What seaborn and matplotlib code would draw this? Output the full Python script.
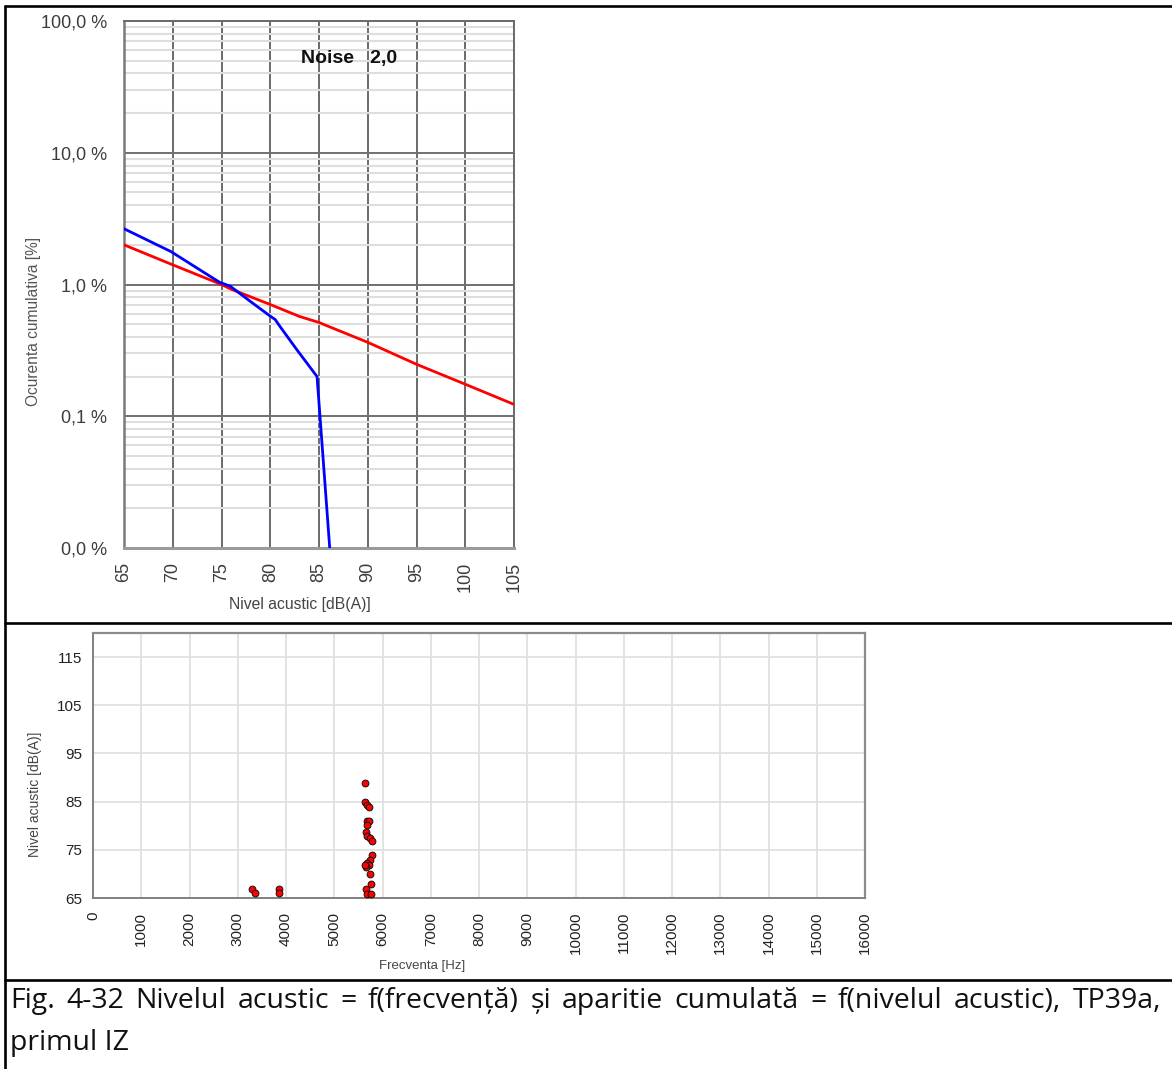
import numpy as np
import pandas as pd
import matplotlib
matplotlib.use("Agg")
import matplotlib.pyplot as plt
import seaborn as sns
from matplotlib.lines import Line2D
from matplotlib.ticker import FixedLocator, FixedFormatter, NullFormatter

# ---- cumulative occurrence vs. sound level ----
level_measured = [65.0, 69.8, 74.8, 75.9, 77.9, 80.0, 80.5, 81.0, 82.7, 84.8, 86.1]
occ_measured = [2.65, 1.78, 1.04, 0.97, 0.75, 0.575, 0.543, 0.48, 0.322, 0.20, 0.01]
level_ref = [65, 70, 75, 76, 80, 83, 85, 86, 90, 95, 100, 105]
occ_ref = [2.0, 1.41, 1.0, 0.92, 0.705, 0.572, 0.515, 0.48, 0.364, 0.248, 0.175, 0.123]
occ_ticks = [0.01, 0.1, 1, 10, 100]
occ_tick_labels = ["0,0 %", "0,1 %", "1,0 %", "10,0 %", "100,0 %"]
level_ticks = [65, 70, 75, 80, 85, 90, 95, 100, 105]
noise_label = "Noise   2,0"

# ---- sound level vs. frequency ----
freq_hz = [3289, 3358, 3862, 3862,
           5637, 5637, 5685, 5727, 5685, 5720, 5672, 5658, 5672, 5741, 5788,
           5788, 5741, 5672, 5727, 5658, 5637, 5741, 5755, 5658, 5672, 5755]
level_db = [66.8, 66.0, 66.8, 66.0,
            88.9, 84.9, 84.4, 83.8, 81.0, 80.9, 80.2, 78.7, 77.8, 77.4, 76.8,
            73.9, 72.9, 72.2, 71.8, 71.5, 71.8, 70.0, 67.9, 66.8, 65.8, 65.8]
freq_ticks = list(range(0, 16001, 1000))
db_ticks = [65, 75, 85, 95, 105, 115]

caption_line1 = ("Fig. 4-32 Nivelul acustic = f(frecvență) și aparitie cumulată = "
                 "f(nivelul acustic), TP39a,")
caption_line2 = "primul IZ"

sns.set_style("white")
plt.rcParams["font.family"] = ["Liberation Sans", "DejaVu Sans"]

W, H = 1172, 1069
fig = plt.figure(figsize=(W / 100, H / 100), dpi=100)


def px_rect(x0, y0, x1, y1):
    return [x0 / W, 1 - y1 / H, (x1 - x0) / W, (y1 - y0) / H]


# ================= top chart =================
ax1 = fig.add_axes(px_rect(124, 21, 514, 548))
ax1.set_yscale("log")
ax1.set_xlim(65, 105)
ax1.set_ylim(0.01, 100)

minor = [m * d for d in occ_ticks[:-1] for m in range(2, 10)]
ax1.yaxis.set_major_locator(FixedLocator(occ_ticks))
ax1.yaxis.set_major_formatter(FixedFormatter(occ_tick_labels))
ax1.yaxis.set_minor_locator(FixedLocator(minor))
ax1.yaxis.set_minor_formatter(NullFormatter())
ax1.set_xticks(level_ticks)
ax1.set_xticklabels([str(v) for v in level_ticks], rotation=90)

ax1.grid(which="minor", axis="y", color="#dedede", lw=1.5, zorder=0)
ax1.grid(which="major", axis="y", color="#707070", lw=1.4, zorder=1)
ax1.grid(which="major", axis="x", color="#6a6a6a", lw=1.4, zorder=1)
ax1.set_axisbelow(True)
for side in ["top", "right"]:
    ax1.spines[side].set_color("#6a6a6a")
    ax1.spines[side].set_linewidth(1.4)
ax1.spines["left"].set_color("#7a7a7a")
ax1.spines["left"].set_linewidth(1.8)
ax1.spines["bottom"].set_color("#9a9a9a")
ax1.spines["bottom"].set_linewidth(2.2)

ax1.tick_params(axis="y", which="major", length=6, width=1.4, color="#808080",
                pad=6, labelsize=13, labelcolor="#3c3c3c")
ax1.tick_params(axis="y", which="minor", length=0)
ax1.tick_params(axis="x", which="major", length=0, pad=10, labelsize=13,
                labelcolor="#3c3c3c")

df_meas = pd.DataFrame({"level": level_measured, "occ": occ_measured})
df_ref = pd.DataFrame({"level": level_ref, "occ": occ_ref})
sns.lineplot(data=df_ref, x="level", y="occ", ax=ax1, color="#ff0000", lw=2.0,
             sort=False, estimator=None, zorder=3)
sns.lineplot(data=df_meas, x="level", y="occ", ax=ax1, color="#0000ff", lw=2.0,
             sort=False, estimator=None, zorder=4)

ax1.text(88.1, 52, noise_label, ha="center", va="center", fontsize=14,
         fontweight="bold", color="#111111", zorder=5)

ax1.set_xlabel("Nivel acustic [dB(A)]", fontsize=11.3, color="#444444")
ax1.set_ylabel("Ocurenta cumulativa [%]", fontsize=11.2, color="#555555")
ax1.xaxis.set_label_coords(0.451, -0.108)
ax1.xaxis.label.set_va("center")
ax1.yaxis.set_label_coords(-0.233, 0.43)
ax1.yaxis.label.set_va("center")

# ================= bottom chart =================
ax2 = fig.add_axes(px_rect(93, 633, 865, 898))
ax2.set_xlim(0, 16000)
ax2.set_ylim(65, 120)
ax2.set_xticks(freq_ticks)
ax2.set_xticklabels([str(v) for v in freq_ticks], rotation=90)
ax2.set_yticks(db_ticks)
ax2.grid(True, color="#e0e0e0", lw=1.3, zorder=0)
ax2.set_axisbelow(True)
for side in ["top", "right"]:
    ax2.spines[side].set_color("#8c8c8c")
    ax2.spines[side].set_linewidth(1.6)
for side in ["left", "bottom"]:
    ax2.spines[side].set_color("#808080")
    ax2.spines[side].set_linewidth(1.4)
ax2.tick_params(axis="both", length=5, width=1.2, color="#707070",
                labelsize=11, labelcolor="#222222")
ax2.tick_params(axis="y", pad=3)
ax2.tick_params(axis="x", pad=5)

sns.scatterplot(x=freq_hz, y=level_db, ax=ax2, color="#ff0000",
                edgecolor="#111111", linewidth=0.7, s=24, zorder=3)

ax2.set_xlabel("Frecventa [Hz]", fontsize=9.5, color="#444444")
ax2.set_ylabel("Nivel acustic [dB(A)]", fontsize=10, color="#444444")
ax2.xaxis.set_label_coords(0.426, -0.256)
ax2.xaxis.label.set_va("center")
ax2.yaxis.set_label_coords(-0.075, 0.393)
ax2.yaxis.label.set_va("center")

# ================= table borders =================
def hline(y, x0=5, x1=W):
    fig.add_artist(Line2D([x0 / W, x1 / W], [1 - y / H, 1 - y / H],
                          color="black", lw=1.9, transform=fig.transFigure))


hline(6)
hline(623)
hline(980)
fig.add_artist(Line2D([5 / W, 5 / W], [1 - 6 / H, 0], color="black", lw=1.9,
                      transform=fig.transFigure))

# ================= caption (justified first line) =================
cap_font = dict(fontsize=20.5, family=["Open Sans", "DejaVu Sans"], color="#111111")
renderer = fig.canvas.get_renderer()
words = caption_line1.split(" ")
x_left, x_right, y1 = 10, 1161, 1001
texts = [fig.text(0, 0, w, ha="left", va="center", **cap_font) for w in words]
widths = [t.get_window_extent(renderer).width for t in texts]
gap = (x_right - x_left - sum(widths)) / (len(words) - 1)
x = x_left
for t, w in zip(texts, widths):
    t.set_position((x / W, 1 - y1 / H))
    x += w + gap
fig.text(x_left / W, 1 - 1043 / H, caption_line2, ha="left", va="center",
         **cap_font)

fig.savefig("out.png", dpi=100)
